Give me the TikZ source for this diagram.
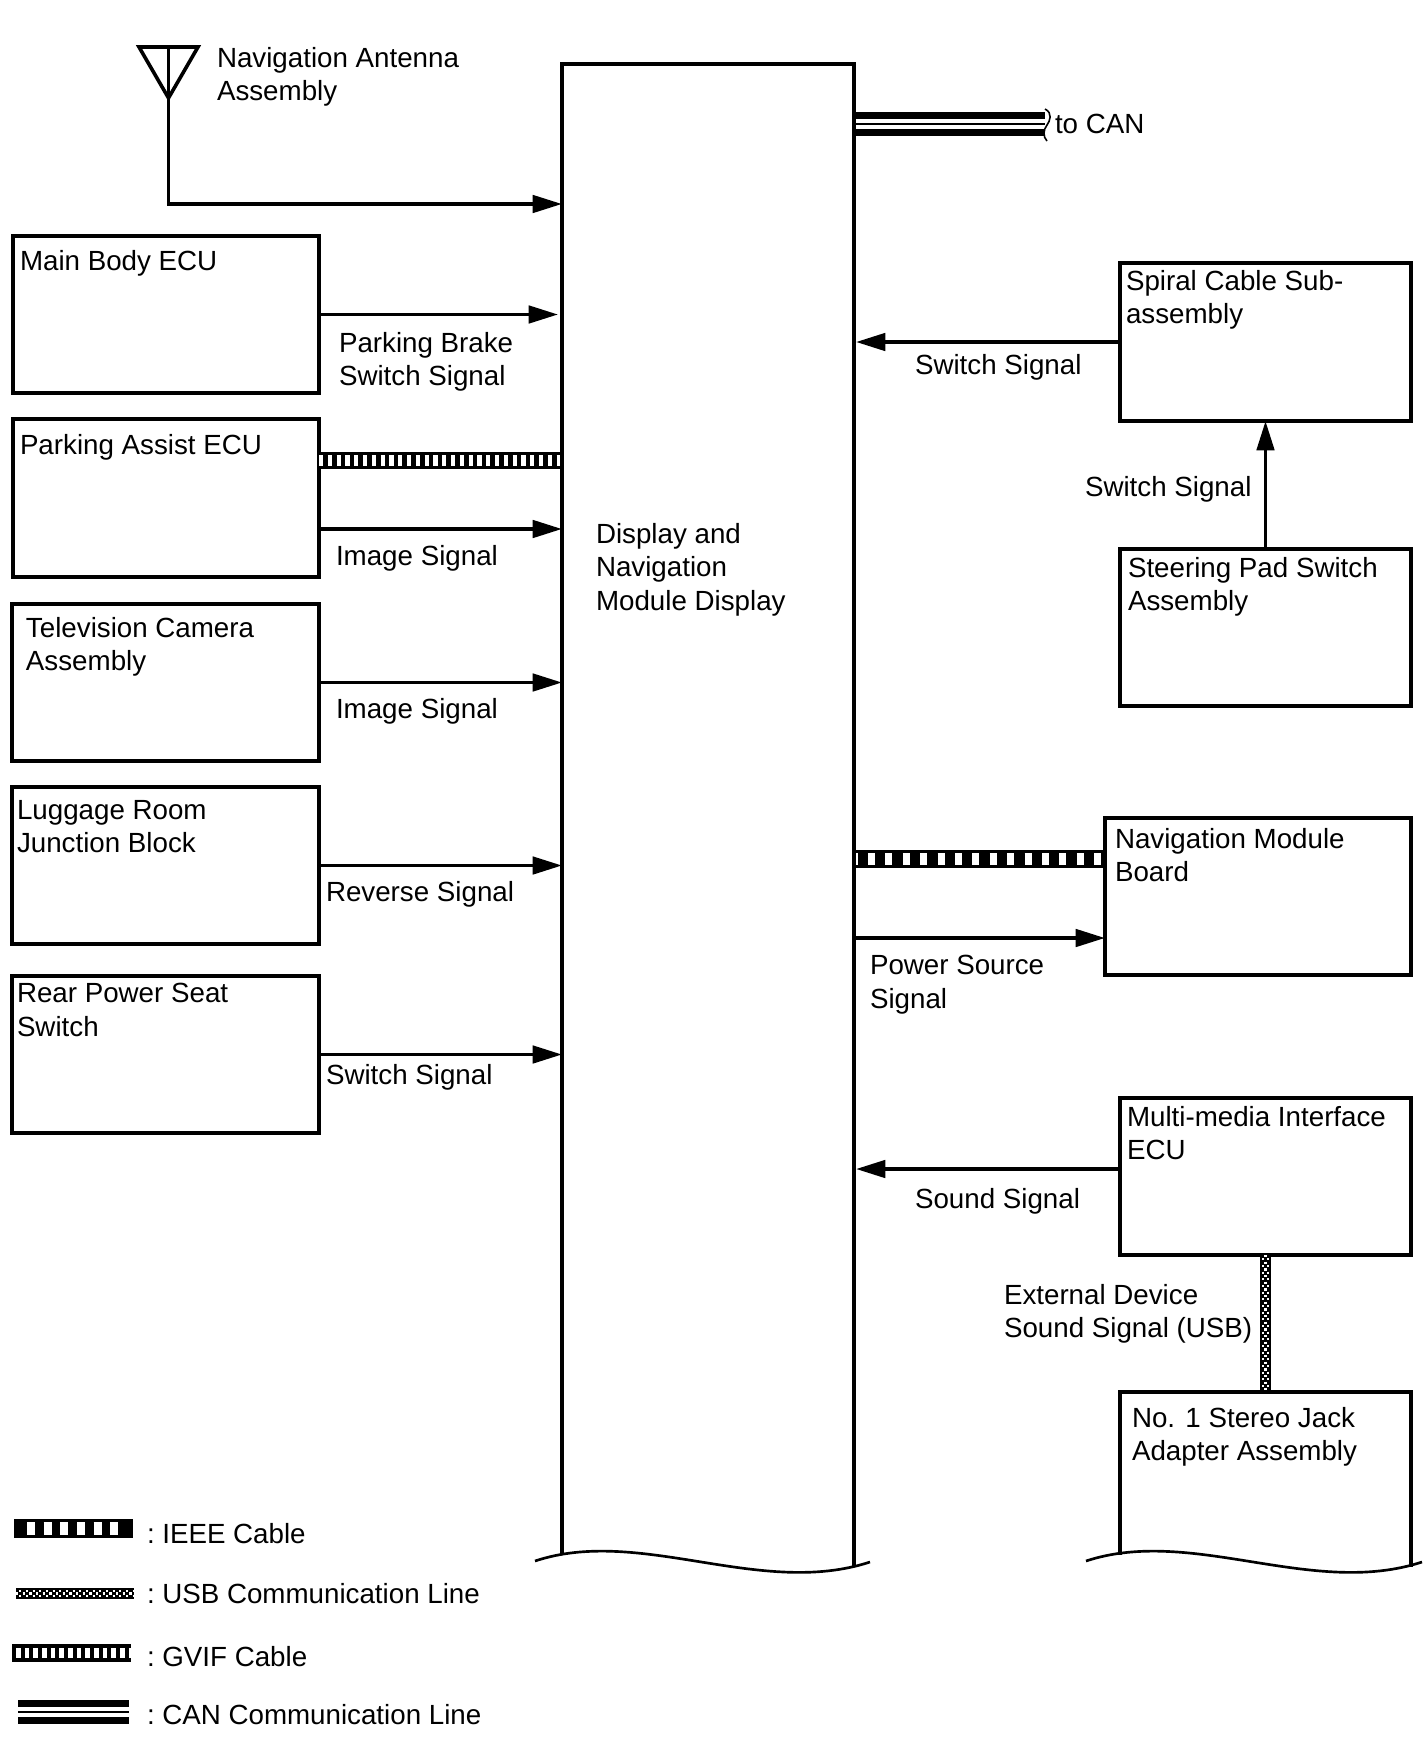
\documentclass[tikz,border=0pt]{standalone}
\usepackage{fontspec}
\setmainfont{Liberation Sans}
\usetikzlibrary{arrows.meta}
\tikzset{
  box/.style={draw=black,line width=3pt,inner sep=0pt,outer sep=0pt,rectangle,fill=none},
  openbox/.style={inner sep=0pt,outer sep=0pt,rectangle},
  side/.style={draw=black,line width=2.7pt,line join=miter},
  wave/.style={draw=black,line width=2pt},
  sig/.style={draw=black,line width=2.8pt,-{Triangle[length=22pt,width=13pt]}},
  txt/.style={font=\fontsize{20.8pt}{25.3pt}\selectfont,align=left,inner sep=0pt,outer sep=0pt,anchor=north west,text=black},
  gvif/.style={draw=black,line width=12.75pt,
    postaction={draw=white,line width=8.9pt,dash pattern=on 3.1pt off 3.5pt}},
  ieee/.style={draw=black,line width=13.5pt,
    postaction={draw=white,line width=9pt,dash pattern=on 5.25pt off 7.8pt,dash phase=2.55pt}},
  can/.style={draw=black,line width=18pt,
    postaction={draw=white,line width=7.5pt},
    postaction={draw=black,line width=1.5pt}},
  usb/.style 2 args={draw=black,line width=8.2pt,
    postaction={draw=white,line width=1.8pt,dash pattern=on 1.8pt off 3.2pt},
    postaction={draw=white,line width=1.6pt,dash pattern=on 1.6pt off 3.4pt,dash phase=2.5pt,transform canvas={#1}},
    postaction={draw=white,line width=1.6pt,dash pattern=on 1.6pt off 3.4pt,dash phase=2.5pt,transform canvas={#2}}},
}
\newcommand{\bx}[6][box]{\node[#1,minimum width={(#5-#3)*0.75pt},minimum height={(#6-#4)*0.75pt}] (#2) at ({(#3+#5)/2},{(#4+#6)/2}) {};}
\newcommand{\lgd}{:\hspace{-2pt} }
\begin{document}
\begin{tikzpicture}[x=0.75pt,y=-0.75pt]
\useasboundingbox (0,0) rectangle (1424,1763);
% open-bottom boxes
\bx[openbox]{central}{562}{64}{854}{1553}
\bx[openbox]{stereo}{1120}{1392}{1411}{1553}
% closed boxes
\bx{mainbody}{13}{236}{319}{393}
\bx{parking}{13}{419}{319}{577}
\bx{tvcam}{12}{604}{319}{761}
\bx{luggage}{12}{787}{319}{944}
\bx{rearseat}{12}{976}{319}{1133}
\bx{spiral}{1120}{263}{1411}{421}
\bx{steering}{1120}{549}{1411}{706}
\bx{navboard}{1105}{818}{1411}{975}
\bx{multimedia}{1120}{1098}{1411}{1255}
% helper coordinates
\coordinate (anttop) at (168.5,47);
\coordinate (antl) at (139,47);
\coordinate (antr) at (198,47);
\coordinate (ant) at (168.5,98);
\coordinate (antrow) at (0,204);
\coordinate (pag) at (319,460.5);
\coordinate (pai) at (319,529);
\coordinate (mmo) at (1120,1169);
\coordinate (nvc) at (1105,859);
\coordinate (nvp) at (1105,938);
\coordinate (canstart) at (854,124);
\coordinate (canend) at (1045,124);
\coordinate (cbl) at (562,1555);
\coordinate (cbr) at (854,1567);
\coordinate (sbl) at (1120,1555);
\coordinate (sbr) at (1411,1567);
% cables
\draw[gvif] (pag) -- (pag -| central.west);
\draw[ieee] (central.east |- nvc) -- (nvc);
\draw[can] (canstart) -- (canend);
\draw[usb={xshift=2.1pt}{xshift=-2.1pt}] (multimedia.south) -- (stereo.north);
% central and stereo boxes
\draw[side] (cbl) -- (central.north west) -- (central.north east) -- (cbr);
\draw[side] (sbl) -- (stereo.north west) -- (stereo.north east) -- (sbr);
\draw[wave] (535,1561) .. controls (640,1526) and (760,1598) .. (870,1562);
\draw[wave] (1086,1561) .. controls (1192,1526) and (1312,1598) .. (1422,1562);
% CAN end
\draw[draw=black,line width=1.2pt] (1045,109) .. controls (1053,113) and (1050,121) .. (1047,125) .. controls (1043,130) and (1043,137) .. (1047,141);
% antenna
\draw[side,line join=miter] (antl) -- (antr) -- (ant) -- cycle;
\draw[side] (anttop) -- (ant);
% arrows
\draw[sig] (ant) |- (central.west |- antrow);
\draw[sig,shorten >=3pt] (mainbody.east) -- (mainbody.east -| central.west);
\draw[sig] (pai) -- (pai -| central.west);
\draw[sig] (tvcam.east) -- (tvcam.east -| central.west);
\draw[sig] (luggage.east) -- (luggage.east -| central.west);
\draw[sig] (rearseat.east) -- (rearseat.east -| central.west);
\draw[sig,shorten >=1.5pt] (spiral.west) -- (spiral.west -| central.east);
\draw[sig] (steering.north) -- (spiral.south);
\draw[sig] (central.east |- nvp) -- (nvp);
\draw[sig,shorten >=1.5pt] (mmo) -- (mmo -| central.east);
% text
\node[txt] (t1) at (217,47) {Navigation Antenna\\Assembly};
\node[txt] (t2) at (20,250) {Main Body ECU};
\node[txt] (t3) at (339,332) {Parking Brake\\Switch Signal};
\node[txt] (t4) at (20,434) {Parking Assist ECU};
\node[txt] (t5) at (336,545) {Image Signal};
\node[txt] (t6) at (26,617) {Television Camera\\Assembly};
\node[txt] (t7) at (336,698) {Image Signal};
\node[txt] (t8) at (17,800) {Luggage Room\\Junction Block};
\node[txt] (t9) at (326,881) {Reverse Signal};
\node[txt] (t10) at (17,983) {Rear Power Seat\\Switch};
\node[txt] (t11) at (326,1064) {Switch Signal};
\node[txt] (t12) at (596,523) {Display and\\Navigation\\Module Display};
\node[txt] (t13) at (1055,114) {to CAN};
\node[txt] (t14) at (1126,270) {Spiral Cable Sub-\\assembly};
\node[txt] (t15) at (915,354) {Switch Signal};
\node[txt] (t16) at (1085,476) {Switch Signal};
\node[txt] (t17) at (1128,557) {Steering Pad Switch\\Assembly};
\node[txt] (t18) at (1115,828) {Navigation Module\\Board};
\node[txt] (t19) at (870,955) {Power Source\\Signal};
\node[txt] (t20) at (1127,1106) {Multi-media Interface\\ECU};
\node[txt] (t21) at (915,1188) {Sound Signal};
\node[txt] (t22) at (1004,1284) {External Device\\Sound Signal (USB)};
\node[txt] (t23) at (1132,1407) {No. 1 Stereo Jack\\Adapter Assembly};
% legend
\coordinate (l1a) at (14,1528.5); \coordinate (l1b) at (133,1528.5);
\coordinate (l2a) at (16,1593.5); \coordinate (l2b) at (134,1593.5);
\coordinate (l3a) at (12,1653); \coordinate (l3b) at (131,1653);
\coordinate (l4a) at (18,1712); \coordinate (l4b) at (129,1712);
\draw[draw=black,line width=14pt,postaction={draw=white,line width=9.5pt,dash pattern=on 0pt off 9.75pt on 6pt off 6.5pt on 6pt off 6.5pt on 6pt off 6.5pt on 6pt off 6.5pt on 6pt off 6.5pt on 6pt off 100pt}] (l1a) -- (l1b);
\draw[usb={yshift=2.1pt}{yshift=-2.1pt}] (l2a) -- (l2b);
\draw[draw=black,line width=13.5pt,postaction={draw=white,line width=7.5pt,dash pattern=on 3.4pt off 3.1pt,dash phase=3.4pt}] (l3a) -- (l3b);
\draw[can] (l4a) -- (l4b);
\node[txt] (l1) at (147,1523) {\lgd IEEE Cable};
\node[txt] (l2) at (147,1583) {\lgd USB Communication Line};
\node[txt] (l3) at (147,1646) {\lgd GVIF Cable};
\node[txt] (l4) at (147,1704) {\lgd CAN Communication Line};
\end{tikzpicture}
\end{document}
